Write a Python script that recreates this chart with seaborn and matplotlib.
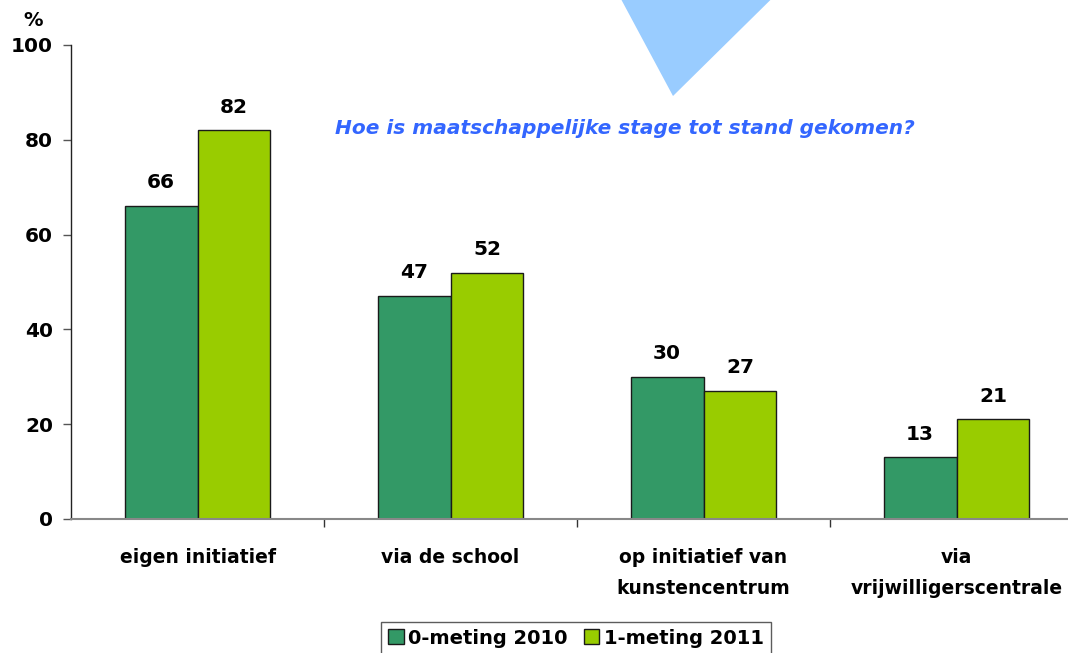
import matplotlib
matplotlib.use("Agg")
import matplotlib.pyplot as plt
import seaborn as sns
import pandas as pd
from matplotlib.patches import Polygon, Patch

categories = ["eigen initiatief", "via de school", "op initiatief van\nkunstencentrum", "via\nvrijwilligerscentrale"]
series_names = ["0-meting 2010", "1-meting 2011"]
values_2010 = [66, 47, 30, 13]
values_2011 = [82, 52, 27, 21]
yticks = [0, 20, 40, 60, 80, 100]
title = "Hoe is maatschappelijke stage tot stand gekomen?"

colors = ["#339966", "#99CC00"]

sns.set_theme(style="white")
plt.rcParams['font.family'] = ['DejaVu Sans']
plt.rcParams['text.color'] = 'black'
plt.rcParams['xtick.color'] = 'black'
plt.rcParams['ytick.color'] = 'black'

df = pd.DataFrame({
    "cat": categories * 2,
    "series": [series_names[0]] * 4 + [series_names[1]] * 4,
    "val": values_2010 + values_2011,
})

fig = plt.figure(figsize=(10.68, 6.53), dpi=100)
ax = fig.add_axes([71/1068, 1-519/653, 1012/1068, 474/653])

sns.barplot(data=df, x="cat", y="val", hue="series", palette=colors, width=0.577,
            edgecolor="#1a1a1a", linewidth=1.0, saturation=1, ax=ax, legend=False)

for cont in ax.containers:
    for bar in cont:
        h = bar.get_height()
        ax.text(bar.get_x() + bar.get_width()/2, h + 2.9, f"{h:.0f}", ha="center", va="bottom",
                fontsize=14.5, fontweight="bold", color="black")

ax.set_xlim(-0.5, 3.5)
ax.set_ylim(0, 100)
ax.set_yticks(yticks)
ax.set_yticklabels([str(t) for t in yticks], fontsize=14.5, fontweight="bold", color="black")
ax.set_xticks([0.5, 1.5, 2.5], minor=True)
ax.set_xticks(range(4))
ax.set_xticklabels(categories, fontsize=13.5, fontweight="bold", linespacing=1.8, color="black")
ax.tick_params(axis="x", which="major", length=0, pad=21)
ax.tick_params(axis="x", which="minor", length=6, width=1, color="#333333", direction="out", bottom=True)
ax.tick_params(axis="y", length=6, width=1, color="#555555", direction="out", left=True, pad=7)
ax.set_xlabel("")
ax.set_ylabel("")
for s in ["top", "right"]:
    ax.spines[s].set_visible(False)
ax.spines["left"].set_color("#222222")
ax.spines["bottom"].set_color("#888888")
ax.spines["left"].set_linewidth(1)
ax.spines["bottom"].set_linewidth(1.5)

fig.text(33/1068, 1-21/653, "%", fontsize=14, fontweight="bold", ha="center", va="center", color="black")

# decorative triangle
tri = Polygon([[618/1068, 1.01], [777/1068, 1.01], [673/1068, 1-96/653]], closed=True,
              transform=fig.transFigure, facecolor="#99CCFF", edgecolor="none", zorder=0)
fig.patches.append(tri)

fig.text(625/1068, 1-128/653, title, fontsize=14.5, fontweight="bold", style="italic",
         color="#3366FF", ha="center", va="center")

handles = [Patch(facecolor=colors[i], edgecolor="#1a1a1a", linewidth=1) for i in range(2)]
leg = fig.legend(handles, series_names, loc="lower center", bbox_to_anchor=(576/1068, -0.014),
                 ncol=2, frameon=True, fancybox=False, edgecolor="#333333", handlelength=0.8,
                 handleheight=0.8, handletextpad=0.25, columnspacing=0.8, borderpad=0.35,
                 borderaxespad=0.4, prop={"size": 14, "weight": "bold"})
leg.get_frame().set_linewidth(1)
for t in leg.get_texts():
    t.set_color("black")

fig.savefig("out.png", dpi=100)
